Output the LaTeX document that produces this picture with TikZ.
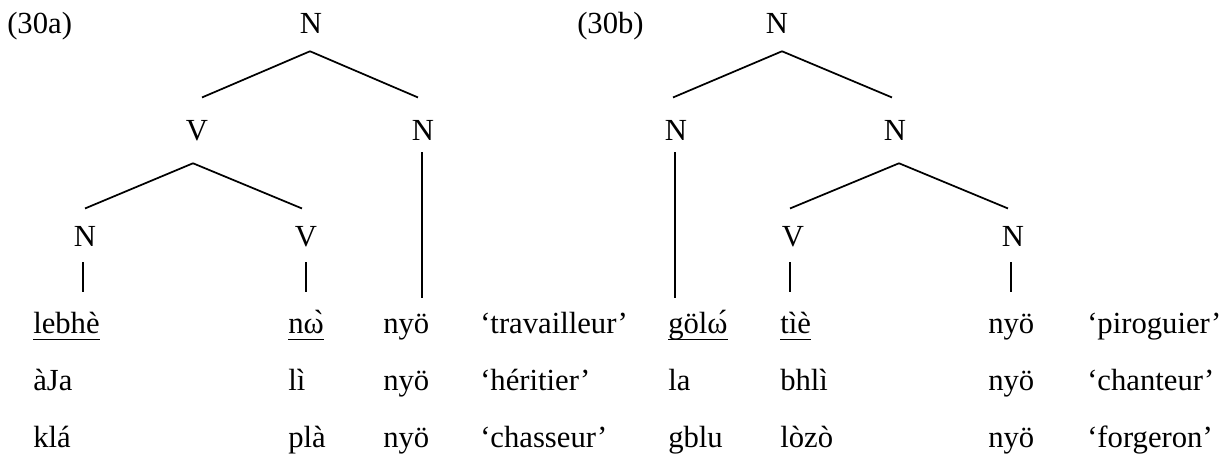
\documentclass[tikz,border=0pt]{standalone}
\usepackage{fontspec}
\setmainfont{Liberation Serif}
% same face without the TeX ligature mapping, so that a bare grave stays a grave
\newfontfamily\rawserif{Liberation Serif}
\usetikzlibrary{calc}

% underline at a fixed depth, passing through descenders
\newcommand\ulword[1]{\setbox0=\hbox{#1}\rlap{\rule[-5.6pt]{\wd0}{1.4pt}}\box0}
% tone marks set over the right half of the preceding letter
\newcommand\gravemark{\llap{\raisebox{1pt}{\rawserif\char"60}}}
\newcommand\acutemark{\llap{\raisebox{1pt}{´}}}

\begin{document}
\begin{tikzpicture}[x=0.75pt,y=-0.75pt,
  font=\fontsize{23}{28}\selectfont,
  cat/.style={inner sep=0pt, anchor=base, text height=15.2pt, text depth=0pt},
  word/.style={inner sep=0pt, anchor=base west, text height=15.5pt, text depth=0pt},
  branch/.style={line width=1.3pt}]
\useasboundingbox (0,0) rectangle (1228,457);

% example numbers
\node[inner sep=0pt, anchor=base west] (ex1) at (7,33) {(30a)};
\node[inner sep=0pt, anchor=base west] (ex2) at (577,33) {(30b)};

% ---------- tree (30a) ----------
\node[cat] (a0) at (311,33)  {N};
\node[cat] (a1) at (197,140) {V};
\node[cat] (a2) at (423,140) {N};
\node[cat] (a3) at (85,246)  {N};
\node[cat] (a4) at (306,246) {V};

% ---------- tree (30b) ----------
\node[cat] (b0) at (777,33)   {N};
\node[cat] (b1) at (676,140)  {N};
\node[cat] (b2) at (895,140)  {N};
\node[cat] (b3) at (793,246)  {V};
\node[cat] (b4) at (1013,246) {N};

% ---------- word rows ----------
% row 1
\node[word] (w11) at (33,333)   {\ulword{lebhè}};
\node[word] (w12) at (288,333)  {\ulword{nω\gravemark}};
\node[word] (w13) at (383,333)  {nyö};
\node[word] (w14) at (480,333)  {‘travailleur’};
\node[word] (w15) at (668,333)  {\ulword{göl\rlap{ω}\hphantom{ω}\acutemark}};
\node[word] (w16) at (780,333)  {\ulword{tìè}};
\node[word] (w17) at (988,333)  {nyö};
\node[word] (w18) at (1087,333) {‘piroguier’};
% row 2
\node[word] (w21) at (33,390)   {àJa};
\node[word] (w22) at (288,390)  {lì};
\node[word] (w23) at (383,390)  {nyö};
\node[word] (w24) at (480,390)  {‘héritier’};
\node[word] (w25) at (668,390)  {la};
\node[word] (w26) at (780,390)  {bhlì};
\node[word] (w27) at (988,390)  {nyö};
\node[word] (w28) at (1087,390) {‘chanteur’};
% row 3
\node[word] (w31) at (33,447)   {klá};
\node[word] (w32) at (288,447)  {plà};
\node[word] (w33) at (383,447)  {nyö};
\node[word] (w34) at (480,447)  {‘chasseur’};
\node[word] (w35) at (668,447)  {gblu};
\node[word] (w36) at (780,447)  {lòzò};
\node[word] (w37) at (988,447)  {nyö};
\node[word] (w38) at (1087,447) {‘forgeron’};

% ---------- branches (30a) ----------
\draw[branch] ($(a0.south)+(-1,18)$) -- ($(a1.north)+(5,-22)$);
\draw[branch] ($(a0.south)+(-1,18)$) -- ($(a2.north)+(-5,-22)$);
\draw[branch] ($(a1.south)+(-4,23)$) -- ($(a3.north)+(0,-17)$);
\draw[branch] ($(a1.south)+(-4,23)$) -- ($(a4.north)+(-4,-17)$);
\draw[branch] ($(a2.south)+(-1,12)$) -- ($(a2.south |- w13.north)+(-1,-14)$);
\draw[branch] ($(a3.south)+(-2,16)$) -- ($(a3.south |- w11.north)+(-2,-20)$);
\draw[branch] ($(a4.south)+(0,16)$)  -- ($(a4.south |- w12.north)+(0,-20)$);

% ---------- branches (30b) ----------
\draw[branch] ($(b0.south)+(5,18)$) -- ($(b1.north)+(-3,-22)$);
\draw[branch] ($(b0.south)+(5,18)$) -- ($(b2.north)+(-3,-22)$);
\draw[branch] ($(b2.south)+(4,23)$) -- ($(b3.north)+(-3,-17)$);
\draw[branch] ($(b2.south)+(4,23)$) -- ($(b4.north)+(-5,-17)$);
\draw[branch] ($(b1.south)+(-1,12)$) -- ($(b1.south |- w15.north)+(-1,-14)$);
\draw[branch] ($(b3.south)+(-3,16)$) -- ($(b3.south |- w16.north)+(-3,-20)$);
\draw[branch] ($(b4.south)+(-2,16)$) -- ($(b4.south |- w17.north)+(-2,-20)$);
\end{tikzpicture}
\end{document}
